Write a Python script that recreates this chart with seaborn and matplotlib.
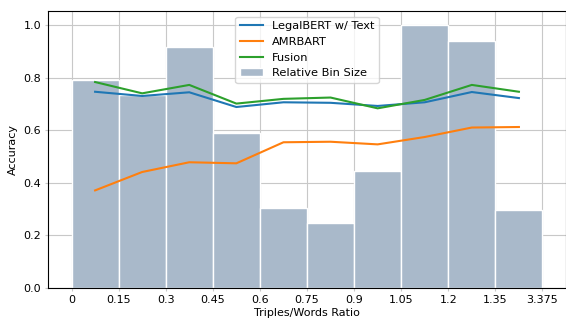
import numpy as np
import pandas as pd
import matplotlib
matplotlib.use("Agg")
import matplotlib.pyplot as plt
import seaborn as sns

tick_labels = ["0", "0.15", "0.3", "0.45", "0.6", "0.75", "0.9", "1.05", "1.2", "1.35", "3.375"]
bin_sizes = [0.79, 0.733, 0.917, 0.588, 0.304, 0.248, 0.446, 1.0, 0.938, 0.298]
legalbert = [0.746, 0.730, 0.744, 0.688, 0.706, 0.704, 0.692, 0.706, 0.745, 0.722]
amrbart = [0.371, 0.441, 0.478, 0.474, 0.554, 0.556, 0.546, 0.574, 0.610, 0.612]
fusion = [0.783, 0.740, 0.772, 0.701, 0.719, 0.724, 0.683, 0.715, 0.772, 0.746]

n = len(bin_sizes)
centers = np.arange(n) + 0.5
df = pd.DataFrame({"pos": centers, "size": bin_sizes, "legalbert": legalbert,
                   "amrbart": amrbart, "fusion": fusion})

fig = plt.figure(figsize=(5.66, 3.18), dpi=100)
ax = fig.add_axes([48 / 566, 30 / 318, 1 - 48 / 566, (288 - 11) / 318])
ax.set_axisbelow(True)
ax.grid(True, color="#c8c8c8", linewidth=0.8)

sns.histplot(data=df, x="pos", weights="size", binwidth=1, binrange=(0, n), color="#a9b9ca",
             edgecolor="white", linewidth=1.0, alpha=1.0, label="Relative Bin Size", ax=ax)
sns.lineplot(data=df, x="pos", y="legalbert", color="#1f77b4", linewidth=1.5, label="LegalBERT w/ Text", ax=ax)
sns.lineplot(data=df, x="pos", y="amrbart", color="#ff7f0e", linewidth=1.5, label="AMRBART", ax=ax)
sns.lineplot(data=df, x="pos", y="fusion", color="#2ca02c", linewidth=1.5, label="Fusion", ax=ax)

ax.set_xlim(-0.5, n + 0.5)
ax.set_ylim(0, 1.053)
ax.set_xticks(np.arange(n + 1))
ax.set_xticklabels(tick_labels)
ax.set_yticks(np.arange(0, 1.01, 0.2))
ax.set_yticklabels([f"{v:.1f}" for v in np.arange(0, 1.01, 0.2)])
ax.tick_params(direction="out", labelsize=8, length=2.5, pad=2.5, color="#c8c8c8")
ax.set_xlabel("Triples/Words Ratio", fontsize=8, labelpad=2)
ax.set_ylabel("Accuracy", fontsize=8, labelpad=4)

handles, labels = ax.get_legend_handles_labels()
order = [labels.index(l) for l in ["LegalBERT w/ Text", "AMRBART", "Fusion", "Relative Bin Size"]]
ax.legend([handles[i] for i in order], [labels[i] for i in order], loc="upper center",
          fontsize=8.2, bbox_to_anchor=(0.5, 1.0))

fig.savefig("out.png", dpi=100)
